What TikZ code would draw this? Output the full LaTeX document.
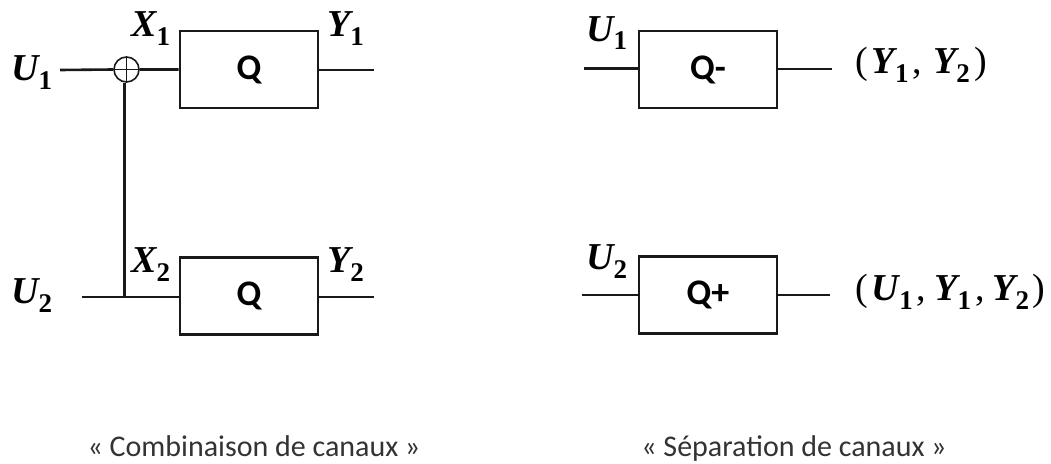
\documentclass[tikz,border=0pt]{standalone}
\usepackage{fontspec}
\setmainfont{Carlito}
\newfontfamily\labfont{Liberation Serif}
\newcommand{\lsub}[2]{{\bfseries\itshape #1}\raisebox{-9pt}{\fontsize{27}{28}\selectfont\bfseries #2}}
\begin{document}
\begin{tikzpicture}[x=1pt,y=-1pt,
  wire/.style={line width=2.6pt,black!90},
  blockbox/.style={draw=black!90,line width=2.6pt,minimum width=138pt,minimum height=77pt,inner sep=0pt,font=\fontsize{36}{38}\selectfont\bfseries},
  lab/.style={inner sep=0pt,anchor=base west,font=\labfont\fontsize{38}{40}\selectfont},
  captext/.style={inner sep=0pt,anchor=base,text=black!80,font=\fontsize{30}{32}\selectfont}]
\useasboundingbox (0,0) rectangle (1051,463);
\node[blockbox] (q1) at (249,69.5) {Q};
\node[blockbox] (q2) at (249,296) {Q};
\node[blockbox] (qm) at (708,69.5) {Q-};
\node[blockbox] (qp) at (708,295) {Q+};
\node[circle,draw=black!90,line width=1.6pt,minimum size=25pt,inner sep=0pt] (xor) at (126.5,69.5) {};
\draw[line width=1.6pt,black!90] (xor.north)--(xor.south) (xor.west)--(xor.east);
\node[lab] (u1) at (11,80) {\lsub{U}{1}};
\node[lab] (u2) at (11,303) {\lsub{U}{2}};
\node[lab] (x1) at (131,36) {\lsub{X}{1}};
\node[lab] (x2) at (131,272) {\lsub{X}{2}};
\node[lab] (y1) at (327,36) {\lsub{Y}{1}};
\node[lab] (y2) at (327,272) {\lsub{Y}{2}};
\node[lab] (u1r) at (586,41) {\lsub{U}{1}};
\node[lab] (u2r) at (586,269) {\lsub{U}{2}};
\node[lab] (yr) at (855,73) {(\hspace{4pt}\lsub{Y}{1}\hspace{4pt},\hspace{11pt}\lsub{Y}{2}\hspace{5pt})};
\node[lab] (ur) at (855,300) {(\hspace{4pt}\lsub{U}{1}\hspace{4pt},\hspace{8pt}\lsub{Y}{1}\hspace{4pt},\hspace{8pt}\lsub{Y}{2}\hspace{3pt})};
\coordinate (a1) at (60,70); \coordinate (a2) at (82,297);
\coordinate (b1) at (374,70); \coordinate (b2) at (374,297);
\coordinate (c1) at (584,68.5); \coordinate (c2) at (582,295);
\coordinate (d1) at (832,69); \coordinate (d2) at (830,295);
\coordinate (j) at (124.5,297);
\draw[wire] (a1)--(xor.west) (xor.east)--(q1.west|-xor);
\draw[wire] (a2)--(j)--(q2.west|-j);
\draw[wire] (j|-xor.south)--(j);
\draw[wire] (q1.east|-b1)--(b1);
\draw[wire] (q2.east|-b2)--(b2);
\draw[wire] (c1)--(qm.west|-c1);
\draw[wire] (c2)--(qp.west|-c2);
\draw[wire] (qm.east|-d1)--(d1);
\draw[wire] (qp.east|-d2)--(d2);
\node[captext] (c1t) at (254,456) {« Combinaison de canaux »};
\node[captext] (c2t) at (794,456) {« Séparation de canaux »};
\end{tikzpicture}
\end{document}
